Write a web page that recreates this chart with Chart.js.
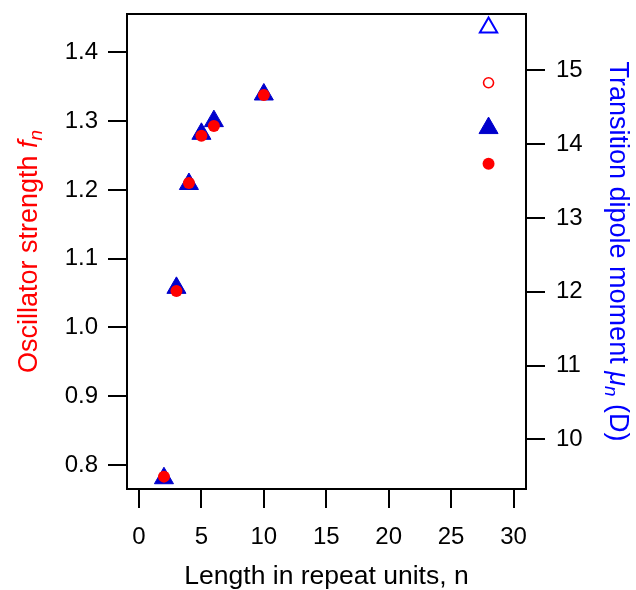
<!DOCTYPE html>
<html>
<head>
<meta charset="utf-8">
<script src="https://cdn.jsdelivr.net/npm/chart.js@4.4.1/dist/chart.umd.min.js"></script>
<style>
  html, body { margin: 0; padding: 0; background: #fff; }
  #wrap { width: 636px; height: 590px; }
</style>
</head>
<body>
<div id="wrap"><canvas id="c" width="636" height="590"></canvas></div>
<script>
// Chain length (repeat units) and the two measured quantities
const repeatUnits   = [2, 3, 4, 5, 6, 10, 28];
const oscStrength   = [0.783, 1.053, 1.210, 1.279, 1.293, 1.338, 1.238];   // f_n
const dipoleMoment  = [9.473, 12.053, 13.461, 14.141, 14.313, 14.674, 14.219]; // mu_n (D)

// Alternate values at n = 28 (open markers)
const altN            = [28];
const altOscStrength  = [1.356];
const altDipoleMoment = [15.581];

// Tick labels
const xTicks  = [0, 5, 10, 15, 20, 25, 30];
const fTicks  = [0.8, 0.9, 1.0, 1.1, 1.2, 1.3, 1.4];
const muTicks = [10, 11, 12, 13, 14, 15];

const FONT = '"Liberation Sans", Arial, Helvetica, sans-serif';
const RED = '#ff0000';
const BLUE = '#0000ff';
const NAVY = '#0000cc';

const pts = (xs, ys) => xs.map((x, i) => ({ x: x, y: ys[i] }));

// Draws a line of text made of differently styled pieces, optionally rotated
function drawRichText(ctx, parts, cx, cy, angle, color) {
  ctx.save();
  ctx.translate(cx, cy);
  ctx.rotate(angle);
  ctx.fillStyle = color;
  ctx.textBaseline = 'alphabetic';
  ctx.textAlign = 'left';
  let total = 0;
  parts.forEach(p => { ctx.font = p.font; p.w = ctx.measureText(p.text).width; total += p.w; });
  let x = -total / 2;
  parts.forEach(p => { ctx.font = p.font; ctx.fillText(p.text, x, p.dy || 0); x += p.w; });
  ctx.restore();
}

const frameAndTitles = {
  id: 'frameAndTitles',
  afterDraw(chart) {
    const ctx = chart.ctx;
    const a = chart.chartArea;
    ctx.save();
    ctx.strokeStyle = '#000';
    ctx.lineWidth = 2;
    ctx.strokeRect(a.left, a.top, a.right - a.left, a.bottom - a.top);
    ctx.restore();

    const reg = '27px ' + FONT;
    const ita = 'italic 27px ' + FONT;
    const sub = 'italic 19px ' + FONT;
    const midY = (a.top + a.bottom) / 2;

    drawRichText(ctx, [
      { text: 'Oscillator strength ', font: reg },
      { text: 'f', font: ita },
      { text: 'n', font: sub, dy: 5 }
    ], 37, midY, -Math.PI / 2, RED);

    drawRichText(ctx, [
      { text: 'Transition dipole moment ', font: reg },
      { text: 'μ', font: ita },
      { text: 'n', font: sub, dy: 5 },
      { text: ' (D)', font: reg }
    ], 610, midY, Math.PI / 2, BLUE);

    drawRichText(ctx, [
      { text: 'Length in repeat units, n', font: '26.5px ' + FONT }
    ], (a.left + a.right) / 2, 584, 0, '#000');
  }
};

const tickStyle = {
  display: true,
  drawOnChartArea: false,
  drawTicks: true,
  tickLength: 19,
  tickWidth: 2,
  tickColor: '#000',
  lineWidth: 2,
  color: '#000'
};

new Chart(document.getElementById('c'), {
  type: 'scatter',
  data: {
    datasets: [
      {
        label: 'f_n',
        data: pts(repeatUnits, oscStrength),
        yAxisID: 'y',
        pointStyle: 'circle',
        pointRadius: 6,
        pointBackgroundColor: RED,
        pointBorderColor: RED,
        pointBorderWidth: 0,
        order: 1
      },
      {
        label: 'f_n alt',
        data: pts(altN, altOscStrength),
        yAxisID: 'y',
        pointStyle: 'circle',
        pointRadius: 5,
        pointBackgroundColor: 'rgba(255,255,255,0)',
        pointBorderColor: RED,
        pointBorderWidth: 1.6,
        order: 1
      },
      {
        label: 'mu_n',
        data: pts(repeatUnits, dipoleMoment),
        yAxisID: 'y2',
        pointStyle: 'triangle',
        pointRadius: 11,
        pointBackgroundColor: NAVY,
        pointBorderColor: NAVY,
        pointBorderWidth: 1,
        order: 2
      },
      {
        label: 'mu_n alt',
        data: pts(altN, altDipoleMoment),
        yAxisID: 'y2',
        pointStyle: 'triangle',
        pointRadius: 10,
        pointBackgroundColor: 'rgba(255,255,255,0)',
        pointBorderColor: BLUE,
        pointBorderWidth: 2,
        order: 2
      }
    ]
  },
  options: {
    responsive: false,
    animation: false,
    events: [],
    layout: { padding: { top: 14, left: 0, right: 0, bottom: 0 } },
    plugins: { legend: { display: false }, tooltip: { enabled: false } },
    scales: {
      x: {
        type: 'linear',
        position: 'bottom',
        min: -0.96,
        max: 31.0,
        afterBuildTicks: s => { s.ticks = xTicks.map(v => ({ value: v })); },
        afterFit: s => { s.height = 101; s.paddingLeft = 0; s.paddingRight = 0; },
        grid: tickStyle,
        border: { display: false },
        ticks: {
          color: '#000',
          font: { family: FONT, size: 24 },
          padding: 15,
          maxRotation: 0,
          autoSkip: false,
          callback: v => String(v)
        }
      },
      y: {
        type: 'linear',
        position: 'left',
        min: 0.765,
        max: 1.456,
        afterBuildTicks: s => { s.ticks = fTicks.map(v => ({ value: v })); },
        afterFit: s => { s.width = 127; s.paddingTop = 0; s.paddingBottom = 0; },
        grid: tickStyle,
        border: { display: false },
        ticks: {
          color: '#000',
          font: { family: FONT, size: 24 },
          padding: 10,
          autoSkip: false,
          callback: v => Number(v).toFixed(1)
        }
      },
      y2: {
        type: 'linear',
        position: 'right',
        min: 9.327,
        max: 15.765,
        afterBuildTicks: s => { s.ticks = muTicks.map(v => ({ value: v })); },
        afterFit: s => { s.width = 110; s.paddingTop = 0; s.paddingBottom = 0; },
        grid: tickStyle,
        border: { display: false },
        ticks: {
          color: '#000',
          font: { family: FONT, size: 24 },
          padding: 11,
          autoSkip: false,
          callback: v => String(v)
        }
      }
    }
  },
  plugins: [frameAndTitles]
});
</script>
</body>
</html>
